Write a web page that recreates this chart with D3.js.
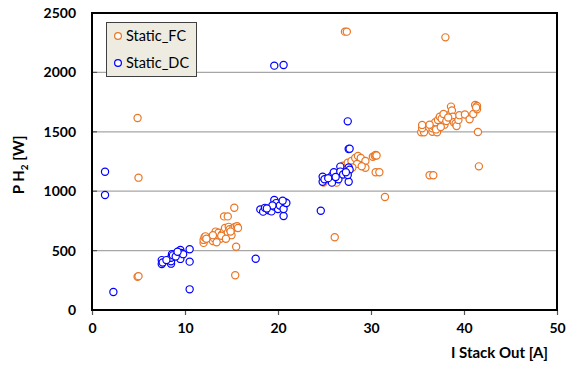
<!DOCTYPE html>
<html><head><meta charset="utf-8">
<script src="https://cdn.jsdelivr.net/npm/d3@7"></script>
<style>body{margin:0;background:#fff}svg{display:block}text{font-family:Lato,"Open Sans",sans-serif}</style>
</head><body><svg id="c" width="570" height="365"></svg>
<script>
const seriesNames = ["Static_FC", "Static_DC"];
const xTicks = [0, 10, 20, 30, 40, 50];
const yTicks = [0, 500, 1000, 1500, 2000, 2500];
const fcX = [27.2,27.4,38.0,4.9,5.0,4.9,5.0,15.4,15.5,15.3,14.2,14.6,26.1,31.5,36.3,36.7,41.6,41.5,
 12.0,12.0,12.1,12.2,13.0,13.1,13.2,13.3,13.5,13.6,13.8,14.0,14.2,14.3,14.5,14.6,14.7,14.8,15.0,15.2,15.4,15.6,15.7,14.9,13.9,13.4,12.3,13.0,14.4,
 27.0,27.5,27.9,28.3,28.6,28.9,29.4,29.4,28.5,30.2,30.4,30.5,30.6,30.5,30.9,26.3,24.9,25.5,26.0,26.5,27.2,28.0,29.0,25.8,26.8,
 35.4,35.7,35.5,35.5,36.6,36.6,36.7,36.9,37.1,37.0,37.2,37.4,37.6,37.9,38.1,38.4,38.6,38.7,38.8,38.9,39.1,39.2,39.4,39.5,40.1,40.6,41.0,41.2,41.4,41.4,41.3,37.8,38.3,36.3,37.5];
const fcY = [2343,2343,2295,1616,1114,280,285,292,533,861,788,788,612,951,1134,1134,1209,1498,
 565,590,612,620,580,605,640,660,620,650,600,640,665,690,620,650,700,680,630,690,700,705,690,660,625,570,600,630,600,
 1215,1240,1254,1280,1297,1280,1254,1198,1230,1290,1299,1305,1300,1159,1159,1072,1072,1100,1130,1150,1180,1200,1210,1090,1170,
 1496,1496,1530,1558,1500,1530,1549,1580,1496,1520,1600,1627,1610,1560,1590,1640,1712,1680,1627,1580,1570,1549,1600,1640,1645,1606,1650,1726,1717,1690,1705,1650,1620,1560,1540];
const dcX = [19.6,20.6,1.4,1.4,2.3,10.5,10.5,10.5,17.6,24.6,27.5,27.6,27.7,
 7.5,7.5,7.6,8.5,8.5,8.5,8.6,8.7,9.5,9.6,9.4,9.5,9.0,8.0,9.8,9.2,
 18.1,18.4,18.6,19.0,19.3,19.6,19.6,19.8,20.0,20.2,20.6,20.6,20.8,20.9,20.5,19.4,18.8,
 24.8,24.8,25.0,25.8,25.8,26.0,26.7,26.7,26.5,27.0,27.6,27.7,27.6,27.5,27.3,26.2,25.4];
const dcY = [2057,2062,1164,968,152,174,407,511,432,836,1588,1355,1358,
 387,420,400,390,410,440,470,460,505,480,460,430,450,420,470,490,
 847,828,860,840,830,926,870,900,850,880,791,850,905,901,920,880,855,
 1080,1122,1100,1130,1072,1160,1207,1165,1100,1140,1200,1180,1080,1136,1160,1120,1110];
const colors = ["#E97625", "#0000FF"];

const svg = d3.select("#c");
const L = 92, R = 557, T = 13, B = 310;
const x = d3.scaleLinear().domain([0, 50]).range([L, R]);
const y = d3.scaleLinear().domain([0, 2500]).range([B, T]);

// gridlines
svg.append("g").selectAll("line").data(yTicks.filter(v => v > 0 && v < 2500)).join("line")
  .attr("x1", L).attr("x2", R).attr("y1", d => y(d)).attr("y2", d => y(d))
  .attr("stroke", "#A6A6A6").attr("stroke-width", 1.3);
// inner y ticks
svg.append("g").selectAll("line").data(yTicks).join("line")
  .attr("x1", L).attr("x2", L + 5).attr("y1", d => y(d)).attr("y2", d => y(d))
  .attr("stroke", "#555").attr("stroke-width", 1.2);

// x axis
const xAxis = d3.axisBottom(x).tickValues(xTicks).tickSize(5).tickPadding(8).tickFormat(d3.format("d"));
const gx = svg.append("g").attr("transform", `translate(0,${B})`).call(xAxis);
gx.select(".domain").remove();
gx.selectAll("line").attr("stroke", "#555").attr("stroke-width", 1.2);
gx.selectAll("text").attr("font-size", 14).attr("font-weight", "bold").attr("fill", "#000");

const yAxis = d3.axisLeft(y).tickValues(yTicks).tickSize(0).tickPadding(16).tickFormat(d3.format("d"));
const gy = svg.append("g").attr("transform", `translate(${L},0)`).call(yAxis);
gy.select(".domain").remove();
gy.selectAll("text").attr("font-size", 14).attr("font-weight", "bold").attr("fill", "#000");

// points
function drawSeries(xs, ys, col) {
  svg.append("g").selectAll("circle").data(xs.map((v, i) => [v, ys[i]])).join("circle")
    .attr("cx", d => x(d[0])).attr("cy", d => y(d[1])).attr("r", 3.6)
    .attr("fill", "#fff").attr("stroke", col).attr("stroke-width", 1.2);
}
drawSeries(fcX, fcY, colors[0]);
drawSeries(dcX, dcY, colors[1]);

// frame
svg.append("rect").attr("x", L).attr("y", T).attr("width", R - L).attr("height", B - T)
  .attr("fill", "none").attr("stroke", "#000").attr("stroke-width", 2);

// legend
const lg = svg.append("g");
lg.append("rect").attr("x", 106.5).attr("y", 22.5).attr("width", 90).attr("height", 54)
  .attr("fill", "#EEECE1").attr("stroke", "#404040").attr("stroke-width", 1);
seriesNames.forEach((n, i) => {
  const cy = 36 + i * 27;
  lg.append("circle").attr("cx", 118).attr("cy", cy).attr("r", 3.4)
    .attr("fill", "#fff").attr("stroke", colors[i]).attr("stroke-width", 1.2);
  lg.append("text").attr("x", 126).attr("y", cy).attr("dy", "0.35em")
    .attr("font-size", 14.5).attr("fill", "#000").text(n);
});

// titles
svg.append("text").attr("x", 548).attr("y", 358).attr("text-anchor", "end")
  .attr("font-size", 15).attr("font-weight", "bold").text("I Stack Out [A]");
const yt = svg.append("text").attr("transform", "translate(24,165) rotate(-90)")
  .attr("text-anchor", "middle").attr("font-size", 15).attr("font-weight", "bold");
yt.append("tspan").text("P H");
yt.append("tspan").attr("font-size", 10).attr("dy", 4).text("2");
yt.append("tspan").attr("dy", -4).text(" [W]");
</script></body></html>
